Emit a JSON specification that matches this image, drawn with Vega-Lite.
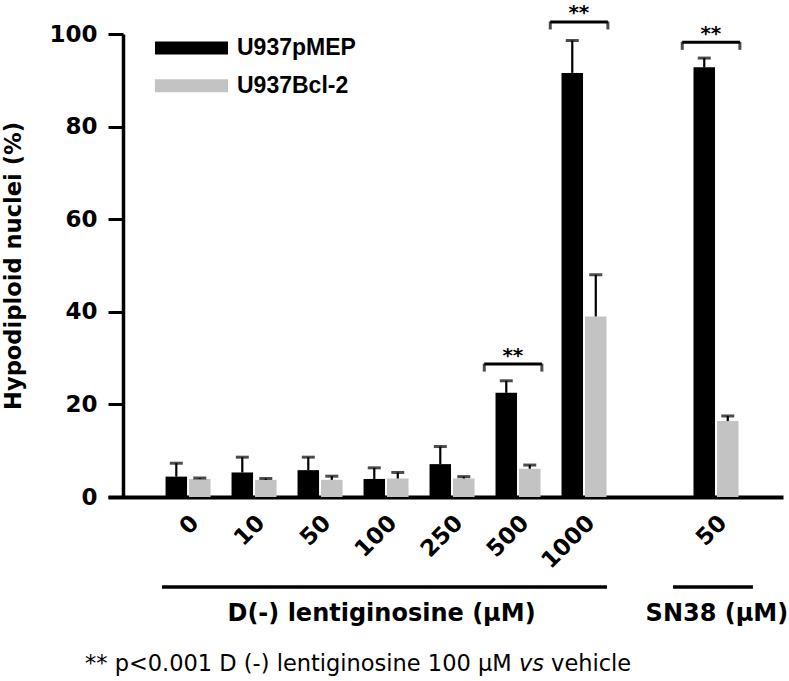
{
  "$schema": "https://vega.github.io/schema/vega-lite/v6.json",
  "width": 675,
  "height": 463,
  "autosize": "none",
  "padding": {"left": 108, "top": 34, "right": 6, "bottom": 184},
  "background": "white",
  "config": {"view": {"stroke": null}, "axis": {"grid": false}},
  "data": {
    "values": [
      {"dose": "0", "series": "U937pMEP", "value": 4.4, "upper": 7.3},
      {"dose": "0", "series": "U937Bcl-2", "value": 3.9, "upper": 4.1},
      {"dose": "10", "series": "U937pMEP", "value": 5.3, "upper": 8.6},
      {"dose": "10", "series": "U937Bcl-2", "value": 3.7, "upper": 4.0},
      {"dose": "50", "series": "U937pMEP", "value": 5.8, "upper": 8.6},
      {"dose": "50", "series": "U937Bcl-2", "value": 3.7, "upper": 4.5},
      {"dose": "100", "series": "U937pMEP", "value": 3.9, "upper": 6.3},
      {"dose": "100", "series": "U937Bcl-2", "value": 4.0, "upper": 5.3},
      {"dose": "250", "series": "U937pMEP", "value": 7.1, "upper": 10.9},
      {"dose": "250", "series": "U937Bcl-2", "value": 4.0, "upper": 4.4},
      {"dose": "500", "series": "U937pMEP", "value": 22.5, "upper": 25.1},
      {"dose": "500", "series": "U937Bcl-2", "value": 6.1, "upper": 6.9},
      {"dose": "1000", "series": "U937pMEP", "value": 91.6, "upper": 98.6},
      {"dose": "1000", "series": "U937Bcl-2", "value": 39.0, "upper": 48.0},
      {"dose": "SN38 50", "series": "U937pMEP", "value": 92.8, "upper": 94.8},
      {"dose": "SN38 50", "series": "U937Bcl-2", "value": 16.4, "upper": 17.5}
    ]
  },
  "layer": [
    {
      "mark": {"type": "bar"},
      "encoding": {
        "x": {
          "field": "dose", "type": "nominal",
          "scale": {"domain": ["0", "10", "50", "100", "250", "500", "1000", "gap", "SN38 50"], "paddingInner": 0.318, "paddingOuter": 0.773, "align": 0.564},
          "axis": {
            "title": null, "domainColor": "black", "domainWidth": 4, "ticks": false, "tickSize": 0,
            "labelAngle": -45, "labelAlign": "right", "labelBaseline": "middle",
            "labelFont": "DejaVu Sans", "labelFontWeight": "bold", "labelFontSize": 23, "labelColor": "black",
            "labelPadding": 22, "labelOffset": 7, "labelOverlap": false, "labelBound": false,
            "labelExpr": "datum.value == 'SN38 50' ? '50' : (datum.value == 'gap' ? '' : datum.value)"
          }
        },
        "xOffset": {"field": "series", "type": "nominal", "scale": {"domain": ["U937pMEP", "U937Bcl-2"], "paddingInner": 0.085, "paddingOuter": 0}},
        "y": {
          "field": "value", "type": "quantitative",
          "scale": {"domain": [0, 100], "nice": false},
          "axis": {
            "values": [0, 20, 40, 60, 80, 100], "offset": -15,
            "domainColor": "black", "domainWidth": 3.5, "tickColor": "black", "tickWidth": 3, "tickSize": 15,
            "labelFont": "DejaVu Sans", "labelFontWeight": "bold", "labelFontSize": 23, "labelColor": "black", "labelPadding": 11,
            "title": "Hypodiploid nuclei (%)", "titleFont": "DejaVu Sans", "titleFontWeight": "bold", "titleFontSize": 22.6, "titleColor": "black", "titlePadding": 23
          }
        },
        "color": {
          "field": "series", "type": "nominal",
          "scale": {"domain": ["U937pMEP", "U937Bcl-2"], "range": ["#000000", "#c3c3c3"]},
          "legend": {
            "title": null, "orient": "none", "legendX": 47, "legendY": 1,
            "symbolType": "M-1,-0.18H1V0.18H-1Z", "symbolSize": 5329, "symbolStrokeWidth": 0, "symbolOpacity": 1,
            "labelFont": "Liberation Sans", "labelFontWeight": "bold", "labelFontSize": 23, "labelColor": "black",
            "labelOffset": 9, "clipHeight": 26, "rowPadding": 11.7, "padding": 0
          }
        }
      }
    },
    {
      "mark": {"type": "rule", "color": "black", "strokeWidth": 2.2},
      "encoding": {
        "x": {"field": "dose", "type": "nominal"},
        "xOffset": {"field": "series", "type": "nominal"},
        "y": {"field": "value", "type": "quantitative"},
        "y2": {"field": "upper"}
      }
    },
    {
      "mark": {"type": "tick", "color": "black", "thickness": 3, "size": 13, "orient": "horizontal"},
      "encoding": {
        "x": {"field": "dose", "type": "nominal"},
        "xOffset": {"field": "series", "type": "nominal"},
        "y": {"field": "upper", "type": "quantitative"}
      }
    },
    {
      "data": {"values": [{"dose": "500", "level": 28.7}, {"dose": "1000", "level": 102.6}, {"dose": "SN38 50", "level": 98.2}]},
      "layer": [
        {
          "mark": {"type": "rule", "color": "black", "strokeWidth": 3},
          "encoding": {
            "x": {"field": "dose", "type": "nominal", "bandPosition": -0.25},
            "x2": {"field": "dose", "bandPosition": 1.03},
            "y": {"field": "level", "type": "quantitative"}
          }
        },
        {
          "mark": {"type": "tick", "orient": "vertical", "color": "black", "thickness": 3, "size": 8, "yOffset": 3.5},
          "encoding": {
            "x": {"field": "dose", "type": "nominal", "bandPosition": -0.25},
            "y": {"field": "level", "type": "quantitative"}
          }
        },
        {
          "mark": {"type": "tick", "orient": "vertical", "color": "black", "thickness": 3, "size": 8, "yOffset": 3.5},
          "encoding": {
            "x": {"field": "dose", "type": "nominal", "bandPosition": 1.03},
            "y": {"field": "level", "type": "quantitative"}
          }
        },
        {
          "mark": {"type": "text", "text": "**", "font": "DejaVu Sans", "fontWeight": "bold", "fontSize": 20, "color": "black", "baseline": "alphabetic", "align": "center", "dy": -2.5},
          "encoding": {
            "x": {"field": "dose", "type": "nominal", "bandPosition": 0.385},
            "y": {"field": "level", "type": "quantitative"}
          }
        }
      ]
    },
    {
      "data": {"values": [{}]},
      "layer": [
        {
          "mark": {"type": "rule", "color": "black", "strokeWidth": 3.5},
          "encoding": {
            "x": {"datum": "0", "bandPosition": -0.078},
            "x2": {"datum": "1000", "bandPosition": 1.01},
            "y": {"datum": -19.45}
          }
        },
        {
          "mark": {"type": "rule", "color": "black", "strokeWidth": 3.5},
          "encoding": {
            "x": {"datum": "SN38 50", "bandPosition": -0.456},
            "x2": {"datum": "SN38 50", "bandPosition": 1.32},
            "y": {"datum": -19.45}
          }
        },
        {
          "mark": {"type": "text", "text": "D(-) lentiginosine (µM)", "font": "DejaVu Sans", "fontWeight": "bold", "fontSize": 24, "color": "black", "align": "center", "baseline": "middle"},
          "encoding": {
            "x": {"datum": "100", "bandPosition": 0.4},
            "y": {"datum": -25.3}
          }
        },
        {
          "mark": {"type": "text", "text": "SN38 (µM)", "font": "DejaVu Sans", "fontWeight": "bold", "fontSize": 24, "color": "black", "align": "center", "baseline": "middle"},
          "encoding": {
            "x": {"datum": "SN38 50", "bandPosition": 0.52},
            "y": {"datum": -25.3}
          }
        },
        {
          "mark": {"type": "text", "text": "** p<0.001 D (-) lentiginosine 100 µM", "font": "DejaVu Sans", "fontSize": 22.5, "color": "black", "align": "left", "baseline": "middle"},
          "encoding": {
            "x": {"datum": "0", "bandPosition": -1.79},
            "y": {"datum": -36}
          }
        },
        {
          "mark": {"type": "text", "text": "vs", "font": "DejaVu Sans", "fontStyle": "italic", "fontSize": 22.5, "color": "black", "align": "left", "baseline": "middle", "dx": 433.9},
          "encoding": {
            "x": {"datum": "0", "bandPosition": -1.79},
            "y": {"datum": -36}
          }
        },
        {
          "mark": {"type": "text", "text": "vehicle", "font": "DejaVu Sans", "fontSize": 22.5, "color": "black", "align": "left", "baseline": "middle", "dx": 466.1},
          "encoding": {
            "x": {"datum": "0", "bandPosition": -1.79},
            "y": {"datum": -36}
          }
        }
      ]
    }
  ]
}
